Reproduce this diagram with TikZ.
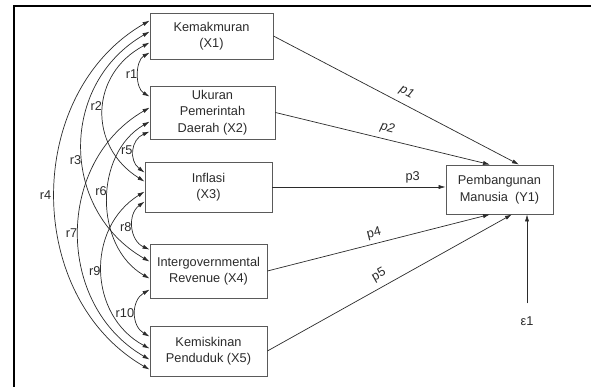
\documentclass[tikz,border=0pt]{standalone}
\usepackage{fontspec}
\setmainfont{Liberation Sans}
\usetikzlibrary{arrows.meta}
\definecolor{boxgray}{HTML}{5A5A5A}
\definecolor{inkgray}{HTML}{2B2B2B}

\begin{document}
\begin{tikzpicture}[>={Latex[length=6pt,width=3.6pt]},
  var/.style={draw=boxgray, line width=0.7pt, rectangle, align=center, text=inkgray, font=\fontsize{10.9}{14}\selectfont, inner sep=2pt},
  lbl/.style={text=inkgray, font=\fontsize{10.9}{13}\selectfont, inner sep=1pt},
  cov/.style={<->, draw=inkgray, line width=0.6pt},
  effect/.style={->, draw=inkgray, line width=0.6pt}]
\useasboundingbox (0,0) rectangle (17.73,11.61);
\draw[line width=1.3pt] (0.42,0) -- (0.42,11.43) -- (17.73,11.43);
\node[var, minimum width=3.69cm, minimum height=1.38cm] (X1) at (6.345,10.53) {Kemakmuran\\(X1)};
\node[var, minimum width=3.75cm, minimum height=1.59cm] (X2) at (6.375,8.235) {Ukuran\\Pemerintah\\Daerah (X2)};
\node[var, minimum width=3.81cm, minimum height=1.50cm] (X3) at (6.255,6.00) {Inflasi\\(X3)};
\node[var, minimum width=3.51cm, minimum height=1.62cm] (X4) at (6.255,3.48) {Intergovernmental\\Revenue (X4)};
\node[var, minimum width=3.51cm, minimum height=1.50cm] (X5) at (6.255,1.08) {Kemiskinan\\Penduduk (X5)};
\node[var, minimum width=3.21cm, minimum height=1.47cm] (Y1) at (14.985,5.925) {Pembangunan\\Manusia\ \ (Y1)};
\node[lbl] (e1) at (15.81,1.98) {ε1};
% correlations
\draw[cov] ([yshift=-1.20cm]X1.north west) to[bend right=60, looseness=0.98] node[lbl,left]{r1} ([yshift=-0.33cm]X2.north west);
\draw[cov] ([yshift=-0.90cm]X1.north west) to[bend right=60, looseness=1.24] node[lbl,left,pos=0.47]{r2} ([yshift=-0.60cm]X3.north west);
\draw[cov] ([yshift=-0.57cm]X1.north west) to[bend right=60, looseness=1.16] node[lbl,left,pos=0.55]{r3} ([yshift=-0.54cm]X4.north west);
\draw[cov] ([yshift=-0.24cm]X1.north west) to[bend right=60, looseness=1.07] node[lbl,left=2pt]{r4} ([yshift=-1.32cm]X5.north west);
\draw[cov] ([yshift=-1.38cm]X2.north west) to[bend right=60, looseness=1.25] node[lbl,left]{r5} ([yshift=-0.33cm]X3.north west);
\draw[cov] ([yshift=-1.08cm]X2.north west) to[bend right=60, looseness=1.05] node[lbl,left,pos=0.45]{r6} ([yshift=-1.05cm]X4.north west);
\draw[cov] ([yshift=-0.66cm]X2.north west) to[bend right=60, looseness=1.11] node[lbl,left]{r7} ([yshift=-1.02cm]X5.north west);
\draw[cov] ([yshift=-1.20cm]X3.north west) to[bend right=60, looseness=1.15] node[lbl,left]{r8} ([yshift=-0.18cm]X4.north west);
\draw[cov] ([yshift=-0.90cm]X3.north west) to[bend right=60, looseness=1.13] node[lbl,left]{r9} ([yshift=-0.69cm]X5.north west);
\draw[cov] ([yshift=-1.38cm]X4.north west) to[bend right=60, looseness=1.17] node[lbl,left]{r10} ([yshift=-0.33cm]X5.north west);
% paths
\draw[effect] (X1.east) -- node[lbl, sloped, above=4pt, pos=0.52]{\textit{p1}} ([xshift=0.585cm]Y1.north);
\draw[effect] (X2.east) -- node[lbl, sloped, above=3pt, pos=0.51]{\textit{p2}} ([xshift=-0.285cm]Y1.north);
\draw[effect] (X3.east) -- node[lbl, above=2pt, pos=0.81]{p3} (X3.east -| Y1.west);
\draw[effect] (X4.east) -- node[lbl, sloped, above=2pt, pos=0.49]{p4} ([xshift=-0.285cm]Y1.south);
\draw[effect] (X5.east) -- node[lbl, sloped, above=4pt, pos=0.48]{p5} ([xshift=0.375cm]Y1.south);
\draw[effect, shorten <=0.35cm] (e1.north) -- (e1.north |- Y1.south);
\end{tikzpicture}
\end{document}
